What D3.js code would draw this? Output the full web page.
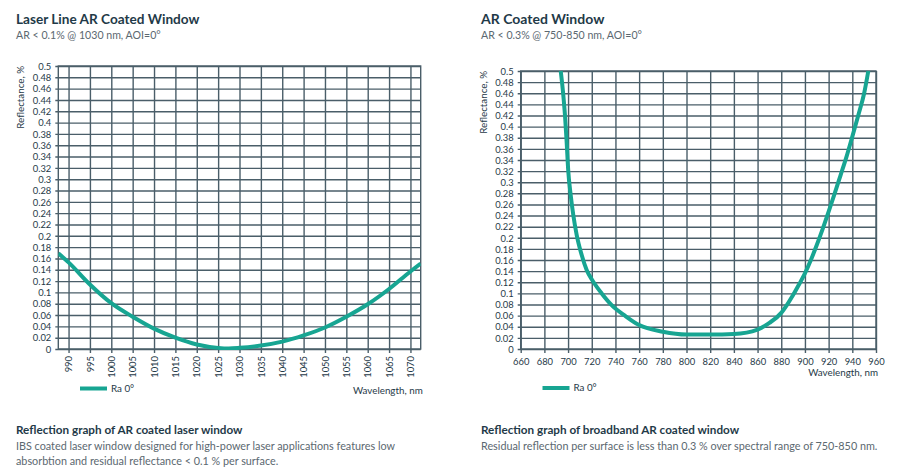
<!DOCTYPE html>
<html><head><meta charset="utf-8">
<script src="https://cdn.jsdelivr.net/npm/d3@7"></script>
<style>
html,body{margin:0;padding:0;background:#fff;}
svg{display:block;font-family:Lato,"Open Sans",sans-serif;}
</style></head>
<body>
<svg id="c" width="900" height="470"></svg>
<script>
// ---- data ----
const leftWavelength = [987.6, 990, 995, 1000, 1005, 1010, 1015, 1020, 1025, 1027.5, 1030, 1035, 1040, 1045, 1050, 1055, 1060, 1065, 1070, 1072.4];
const leftReflectance = [0.169, 0.153, 0.114, 0.081, 0.057, 0.036, 0.020, 0.008, 0.002, 0.001, 0.002, 0.006, 0.013, 0.024, 0.038, 0.057, 0.079, 0.106, 0.137, 0.151];
const leftXTicks = [990, 995, 1000, 1005, 1010, 1015, 1020, 1025, 1030, 1035, 1040, 1045, 1050, 1055, 1060, 1065, 1070];

const rightWavelength = [693.8, 696, 697.4, 698.8, 700.2, 702.2, 704.4, 707.3, 711.5, 715.7, 721.3, 728.4, 736.8, 748, 760, 780, 800, 820, 840, 860, 870, 880, 885, 890, 895, 900, 905, 910, 915, 920, 925, 930, 935, 940, 945, 950, 953.5];
const rightReflectance = [0.5, 0.456, 0.42, 0.372, 0.319, 0.277, 0.241, 0.205, 0.169, 0.142, 0.121, 0.1, 0.079, 0.06, 0.043, 0.031, 0.026, 0.026, 0.027, 0.035, 0.047, 0.065, 0.08, 0.097, 0.116, 0.136, 0.16, 0.187, 0.216, 0.247, 0.279, 0.312, 0.345, 0.382, 0.42, 0.46, 0.5];
const rightXTicks = [660, 680, 700, 720, 740, 760, 780, 800, 820, 840, 860, 880, 900, 920, 940, 960];

const yTicks = [0, 0.02, 0.04, 0.06, 0.08, 0.1, 0.12, 0.14, 0.16, 0.18, 0.2, 0.22, 0.24, 0.26, 0.28, 0.3, 0.32, 0.34, 0.36, 0.38, 0.4, 0.42, 0.44, 0.46, 0.48, 0.5];
const yTickLabels = ["0","0.02","0.04","0.06","0.08","0.1","0.12","0.14","0.16","0.18","0.2","0.22","0.24","0.26","0.28","0.3","0.32","0.34","0.36","0.38","0.4","0.42","0.44","0.46","0.48","0.5"];

const seriesName = "Ra 0°";
const leftTitle = "Laser Line AR Coated Window";
const leftSubtitle = "AR < 0.1% @ 1030 nm, AOI=0°";
const leftCaption = "Reflection graph of AR coated laser window";
const leftBody = ["IBS coated laser window designed for high-power laser applications features low",
                  "absorbtion and residual reflectance < 0.1 % per surface."];
const rightTitle = "AR Coated Window";
const rightSubtitle = "AR < 0.3% @ 750-850 nm, AOI=0°";
const rightCaption = "Reflection graph of broadband AR coated window";
const rightBody = ["Residual reflection per surface is less than 0.3 % over spectral range of 750-850 nm."];

// ---- styles ----
const GRID = "#4a5e69";
const TEAL = "#17a592";
const DARK = "#1f3a48";
const GREY = "#5b6870";

const svg = d3.select("#c");

function panel(o) {
  const g = svg.append("g");
  const x = d3.scaleLinear().domain(o.xDomain).range([o.x0, o.x1]);
  const y = d3.scaleLinear().domain([0, 0.5]).range([o.y0, o.y1]);

  // titles
  g.append("text").attr("x", o.tx).attr("y", 24).attr("fill", DARK)
    .attr("font-size", o.titleSize).attr("font-weight", 700).text(o.title);
  g.append("text").attr("x", o.tx).attr("y", 38.5).attr("fill", GREY)
    .attr("font-size", 10.6).text(o.subtitle);

  // grid: horizontal
  const yAxis = d3.axisLeft(y).tickValues(yTicks).tickFormat((d, i) => yTickLabels[i])
    .tickSize(-(o.x1 - o.x0)).tickSizeOuter(0).tickPadding(7);
  const ya = g.append("g").attr("transform", `translate(${o.x0},0)`).call(yAxis);
  ya.select(".domain").remove();
  ya.selectAll(".tick line").attr("x1", -3).attr("stroke", GRID).attr("stroke-width", 1.4);
  ya.selectAll(".tick text").attr("fill", DARK).attr("font-size", 9.4)
    .attr("font-family", "Lato,sans-serif").attr("dy", "0.34em");

  // grid: vertical
  const xAxis = d3.axisBottom(x).tickValues(o.xTicks).tickFormat(d3.format("d"))
    .tickSize(-(o.y0 - o.y1)).tickSizeOuter(0);
  const xa = g.append("g").attr("transform", `translate(0,${o.y0})`).call(xAxis);
  xa.select(".domain").remove();
  xa.selectAll(".tick line").attr("y1", 4).attr("stroke", GRID).attr("stroke-width", 1.4);
  const xt = xa.selectAll(".tick text").attr("fill", DARK).attr("font-size", 9.4)
    .attr("font-family", "Lato,sans-serif");
  if (o.rotate) {
    xt.attr("transform", "rotate(-90)").attr("text-anchor", "end")
      .attr("x", -7).attr("y", 0).attr("dy", "0.34em");
  } else {
    xt.attr("y", 9).attr("dy", "0.71em");
  }

  // border
  g.append("rect").attr("x", o.x0).attr("y", o.y1).attr("width", o.x1 - o.x0)
    .attr("height", o.y0 - o.y1).attr("fill", "none").attr("stroke", GRID).attr("stroke-width", 1.4);

  // curve
  const clipId = "clip" + o.id;
  svg.append("clipPath").attr("id", clipId).append("rect")
    .attr("x", o.x0).attr("y", o.y1 - 1).attr("width", o.x1 - o.x0).attr("height", o.y0 - o.y1 + 2);
  const line = d3.line().x(d => x(d[0])).y(d => y(d[1])).curve(d3.curveMonotoneX);
  g.append("path").datum(o.wl.map((w, i) => [w, o.r[i]]))
    .attr("clip-path", `url(#${clipId})`)
    .attr("d", line).attr("fill", "none").attr("stroke", TEAL).attr("stroke-width", 4)
    .attr("stroke-linecap", "butt");

  // y label
  g.append("text").attr("transform", `translate(${o.ylx},${o.y1}) rotate(-90)`)
    .attr("text-anchor", "end").attr("dy", "0.34em").attr("fill", DARK).attr("font-size", 9.8)
    .text("Reflectance, %");

  // x label
  g.append("text").attr("x", o.x1 + 2).attr("y", o.xly).attr("text-anchor", "end")
    .attr("fill", DARK).attr("font-size", 9.8).text("Wavelength, nm");

  // legend
  g.append("line").attr("x1", o.lgx).attr("x2", o.lgx + 27).attr("y1", o.lgy).attr("y2", o.lgy)
    .attr("stroke", TEAL).attr("stroke-width", 4);
  g.append("text").attr("x", o.lgx + 31).attr("y", o.lgy).attr("dy", "0.34em")
    .attr("fill", DARK).attr("font-size", 9.8).text(seriesName);

  // caption
  g.append("text").attr("x", o.tx).attr("y", 434).attr("fill", DARK)
    .attr("font-size", 11.7).attr("font-weight", 700).text(o.caption);
  o.body.forEach((t, i) => {
    g.append("text").attr("x", o.tx).attr("y", 450 + i * 15).attr("fill", GREY)
      .attr("font-size", 10.8).text(t);
  });
}

panel({ id: "L", xDomain: [987.6, 1072.4], x0: 58.3, x1: 420.7, y0: 349, y1: 66,
  xTicks: leftXTicks, rotate: true, wl: leftWavelength, r: leftReflectance,
  tx: 16, titleSize: 13.6, title: leftTitle, subtitle: leftSubtitle, caption: leftCaption, body: leftBody,
  ylx: 20.5, xly: 394, lgx: 80, lgy: 388.5 });

panel({ id: "R", xDomain: [660, 960], x0: 520.7, x1: 876, y0: 349, y1: 71,
  xTicks: rightXTicks, rotate: false, wl: rightWavelength, r: rightReflectance,
  tx: 481, titleSize: 14, title: rightTitle, subtitle: rightSubtitle, caption: rightCaption, body: rightBody,
  ylx: 483.5, xly: 376, lgx: 542.5, lgy: 388 });
</script>
</body></html>
